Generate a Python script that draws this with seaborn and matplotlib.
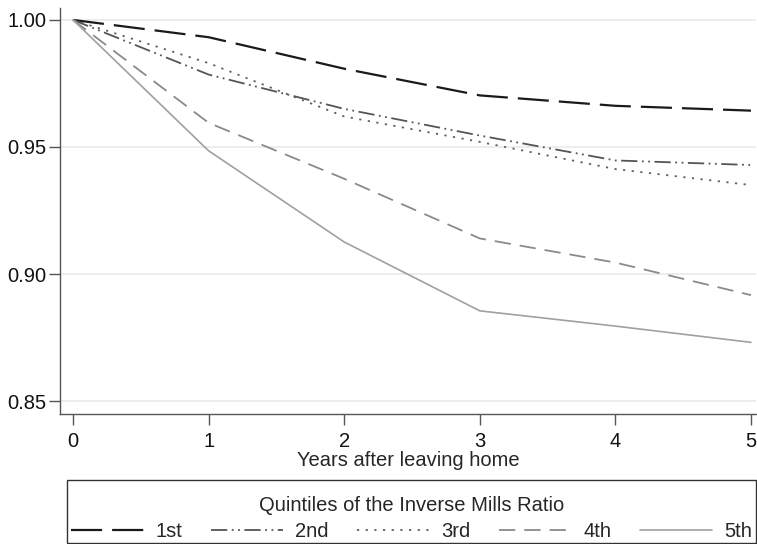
import matplotlib
matplotlib.use("Agg")
import matplotlib.pyplot as plt
import seaborn as sns
import pandas as pd
import numpy as np
from matplotlib.lines import Line2D
from matplotlib.patches import Rectangle

years = [0, 1, 2, 3, 4, 5]
q1 = [1.000, 0.9932, 0.9808, 0.9703, 0.9662, 0.9643]
q2 = [1.000, 0.9785, 0.9650, 0.9545, 0.9447, 0.9429]
q3 = [1.000, 0.9830, 0.9620, 0.9520, 0.9413, 0.9350]
q4 = [1.000, 0.9595, 0.9375, 0.9140, 0.9045, 0.8917]
q5 = [1.000, 0.9485, 0.9126, 0.8855, 0.8795, 0.8731]
labels = ["1st", "2nd", "3rd", "4th", "5th"]
yticks = [0.85, 0.90, 0.95, 1.00]

sns.set_style("white")
plt.rcParams['font.family'] = ['Liberation Sans', 'DejaVu Sans']

df = pd.DataFrame({
    "year": years * 5,
    "value": q1 + q2 + q3 + q4 + q5,
    "quintile": [l for l in labels for _ in years],
})

colors = {"1st": "#1a1a1a", "2nd": "#555555", "3rd": "#5e5e5e",
          "4th": "#8a8a8a", "5th": "#a0a0a0"}
dashes = {"1st": (14, 4.5), "2nd": (9, 2.5, 1, 2.5, 1, 2.5), "3rd": (1.2, 3.6),
          "4th": (9, 5), "5th": ""}
widths = {"1st": 1.6, "2nd": 1.3, "3rd": 1.3, "4th": 1.3, "5th": 1.2}
FS = 14.5

fig = plt.figure(figsize=(7.57, 5.44), dpi=100)
ax = fig.add_axes([60/757, 1-414/544, 696/757, (414-8)/544])

sns.lineplot(data=df, x="year", y="value", hue="quintile", style="quintile",
             palette=colors, dashes=dashes, ax=ax, legend=False)
for line, lab in zip(ax.get_lines(), labels):
    line.set_linewidth(widths[lab])

ax.set_xlim(-0.096, 5.037)
ax.set_ylim(0.8449, 1.0047)
ax.set_yticks(yticks)
ax.set_yticklabels([f"{v:.2f}" for v in yticks])
ax.set_xticks(years)
for v in yticks:
    ax.axhline(v, color="#ececec", lw=1.3, zorder=0)

for s in ["top", "right"]:
    ax.spines[s].set_visible(False)
for s in ["left", "bottom"]:
    ax.spines[s].set_color("#555555")
    ax.spines[s].set_linewidth(1.0)
ax.tick_params(axis="both", labelsize=FS, colors="#111111", length=8,
               width=1.0, direction="out", left=True, bottom=True)
ax.tick_params(axis="both", color="#555555")
ax.tick_params(axis="y", pad=1.5)
ax.tick_params(axis="x", pad=5)
ax.set_xlabel("Years after leaving home", fontsize=FS, labelpad=0)
ax.set_ylabel("")

handles = []
for l in labels:
    if dashes[l]:
        handles.append(Line2D([0], [0], color=colors[l], lw=widths[l],
                              linestyle=(0, dashes[l])))
    else:
        handles.append(Line2D([0], [0], color=colors[l], lw=widths[l], linestyle='-'))
leg = fig.legend(handles, labels, title="Quintiles of the Inverse Mills Ratio",
                 ncol=5, loc="lower left",
                 bbox_to_anchor=(67/757, -1/544, 689/757, 64/544),
                 mode="expand", fontsize=FS, title_fontsize=FS,
                 handlelength=3.6, handletextpad=0.6, columnspacing=1.0,
                 frameon=False, borderaxespad=0,
                 borderpad=0.2, labelspacing=0.35)

box = Rectangle((67/757, 1/544), 689/757, 63/544, transform=fig.transFigure,
                fill=False, edgecolor="#333333", linewidth=1.0)
fig.patches.append(box)

fig.savefig("out.png", dpi=100)
